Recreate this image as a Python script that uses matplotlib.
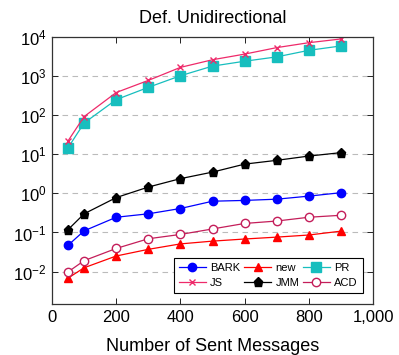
import math
import matplotlib
matplotlib.use("Agg")
import matplotlib.pyplot as plt
from matplotlib.ticker import FixedLocator, NullLocator, FuncFormatter

plt.rcParams['font.family'] = ['Liberation Sans', 'DejaVu Sans']
plt.rcParams['mathtext.fontset'] = 'custom'
plt.rcParams['mathtext.rm'] = 'Liberation Sans'
plt.rcParams['mathtext.it'] = 'Liberation Sans:italic'

x = [50, 100, 200, 300, 400, 500, 600, 700, 800, 900]
bark = [0.047, 0.11, 0.245, 0.30, 0.41, 0.63, 0.66, 0.71, 0.85, 1.04]
new = [0.0068, 0.0125, 0.025, 0.037, 0.051, 0.060, 0.068, 0.076, 0.086, 0.108]
pr = [14.7, 63, 250, 515, 1020, 1800, 2400, 3100, 4560, 5900]
js = [22, 92, 380, 775, 1670, 2620, 3650, 5350, 7150, 8900]
jmm = [0.118, 0.30, 0.78, 1.45, 2.38, 3.5, 5.6, 7.0, 9.0, 11.0]
acd = [0.0098, 0.019, 0.039, 0.069, 0.089, 0.123, 0.17, 0.196, 0.245, 0.275]

xticks = [0, 200, 400, 600, 800, 1000]
xtick_labels = ['0', '200', '400', '600', '800', '1,000']
yticks = [1e-2, 1e-1, 1e0, 1e1, 1e2, 1e3, 1e4]

fig = plt.figure(figsize=(3.99, 3.55), dpi=100)
ax = fig.add_axes([52/399, 1-304/355, (373-52)/399, (304-37)/355])

lw = 0.9
h_bark, = ax.plot(x, bark, color='#0000FF', marker='o', ms=6, lw=lw, label='BARK')
h_new, = ax.plot(x, new, color='#FF0000', marker='^', ms=6, lw=lw, label='new')
h_pr, = ax.plot(x, pr, color='#17BEBE', marker='s', ms=7, lw=lw, label='PR')
h_js, = ax.plot(x, js, color='#EE2A6A', marker='x', ms=4.5, mew=1.0, lw=lw, label='JS')
h_jmm, = ax.plot(x, jmm, color='#000000', marker='p', ms=6.5, lw=lw, label='JMM')
h_acd, = ax.plot(x, acd, color='#C41E5A', marker='o', ms=6, mfc='white', mew=1.0, lw=lw, label='ACD')

ax.set_yscale('log')
ax.set_xlim(0, 1000)
ax.set_ylim(10**-2.83, 1e4)
ax.xaxis.set_major_locator(FixedLocator(xticks))
ax.set_xticklabels(xtick_labels)
ax.yaxis.set_major_locator(FixedLocator(yticks))
ax.yaxis.set_minor_locator(NullLocator())
ax.yaxis.set_major_formatter(FuncFormatter(lambda v, p: r'$10^{%d}$' % round(math.log10(v))))
ax.tick_params(axis='both', which='major', direction='in', top=True, right=True,
               length=4, width=0.7, labelsize=12, colors='#222222', pad=4)
ax.tick_params(axis='both', labelcolor='black')
ax.yaxis.grid(True, which='major', color='#BBBBBB', ls=(0, (5, 4)), lw=0.8)
ax.set_axisbelow(True)
for s in ax.spines.values():
    s.set_color('#333333')
    s.set_linewidth(0.9)

ax.set_title('Def. Unidirectional', fontsize=13, pad=10)
ax.set_xlabel('Number of Sent Messages', fontsize=13, labelpad=10)

handles = [h_bark, h_js, h_new, h_jmm, h_pr, h_acd]
leg = ax.legend(handles=handles, labels=[h.get_label() for h in handles], ncol=3,
                loc='lower right', bbox_to_anchor=(0.968, 0.04), fontsize=8,
                frameon=True, fancybox=False, edgecolor='black', framealpha=1,
                handlelength=2.4, columnspacing=0.35, handletextpad=0.4,
                borderpad=0.45, labelspacing=0.5, borderaxespad=0)
leg.get_frame().set_linewidth(0.8)

fig.savefig('out.png', dpi=100)
